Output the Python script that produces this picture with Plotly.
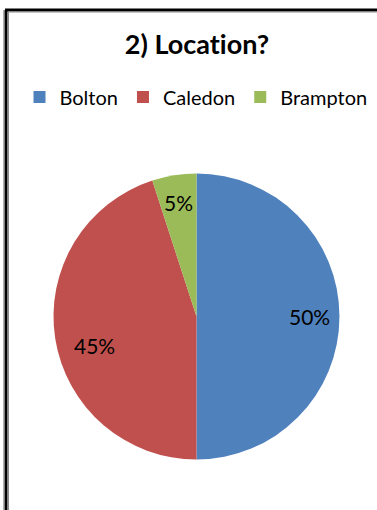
import math
import plotly.graph_objects as go

# Survey answers for question 2
locations = ["Bolton", "Caledon", "Brampton"]
shares = [50, 45, 5]
colors = ["#4F81BD", "#C0504D", "#9BBB59"]

W, H = 377, 510
FONT = "Lato, 'Open Sans', sans-serif"

# Pie geometry in pixels (centre and radius), converted to a paper domain
CX, CY, R = 196.5, 316.5, 143
# Where each percentage label sits: fraction of the radius and a small angular nudge (deg)
LABEL_RADIUS = [0.79, 0.74, 0.81]
LABEL_NUDGE = [0, -7, 0]

fig = go.Figure(
    go.Pie(
        labels=locations,
        values=shares,
        sort=False,
        direction="clockwise",
        rotation=0,
        marker=dict(colors=colors, line=dict(width=0)),
        textinfo="none",
        domain=dict(x=[(CX - R) / W, (CX + R) / W], y=[1 - (CY + R) / H, 1 - (CY - R) / H]),
        hoverinfo="label+percent",
    )
)

# Percentage labels placed at each slice's mid-angle (clockwise from 12 o'clock)
total = sum(shares)
annotations = []
start = 0.0
for i, v in enumerate(shares):
    sweep = 360.0 * v / total
    mid = math.radians(start + sweep / 2 + LABEL_NUDGE[i])
    r = R * LABEL_RADIUS[i]
    px = CX + r * math.sin(mid)
    py = CY - r * math.cos(mid)
    annotations.append(
        dict(
            text=f"{round(100 * v / total)}%",
            x=px / W,
            y=1 - py / H,
            xref="paper",
            yref="paper",
            showarrow=False,
            xanchor="center",
            yanchor="middle",
            font=dict(family=FONT, size=21, color="#000000"),
        )
    )
    start += sweep

# Frame: dark outer edge with a thin grey inner line (top and left only)
shapes = [
    dict(type="line", xref="paper", yref="paper", x0=5 / W, x1=1, y0=1 - 10 / H, y1=1 - 10 / H,
         line=dict(color="#000000", width=3)),
    dict(type="line", xref="paper", yref="paper", x0=6 / W, x1=6 / W, y0=0, y1=1 - 10 / H,
         line=dict(color="#000000", width=3)),
    dict(type="line", xref="paper", yref="paper", x0=8 / W, x1=1, y0=1 - 12 / H, y1=1 - 12 / H,
         line=dict(color="#8a8a8a", width=1)),
    dict(type="line", xref="paper", yref="paper", x0=8.5 / W, x1=8.5 / W, y0=0, y1=1 - 12 / H,
         line=dict(color="#8a8a8a", width=1)),
    dict(type="line", xref="paper", yref="paper", x0=3.5 / W, x1=3.5 / W, y0=0, y1=1 - 10 / H,
         line=dict(color="#b0b0b0", width=1)),
]

fig.update_layout(
    width=W,
    height=H,
    margin=dict(l=0, r=0, t=0, b=0),
    paper_bgcolor="#ffffff",
    plot_bgcolor="#ffffff",
    shapes=shapes,
    annotations=annotations,
    title=dict(
        text='<b><span style="font-variant-ligatures:none;font-feature-settings:\'liga\' 0">2) Location?</span></b>',
        x=197 / W,
        xanchor="center",
        y=1 - 45 / H,
        yanchor="middle",
        font=dict(family=FONT, size=27, color="#000000"),
    ),
    showlegend=True,
    legend=dict(
        orientation="h",
        x=196 / W,
        xanchor="center",
        y=1 - 97 / H,
        yanchor="middle",
        font=dict(family=FONT, size=20, color="#000000"),
        itemwidth=30,
        bgcolor="rgba(0,0,0,0)",
        traceorder="normal",
    ),
)

fig.write_html("out.html")
